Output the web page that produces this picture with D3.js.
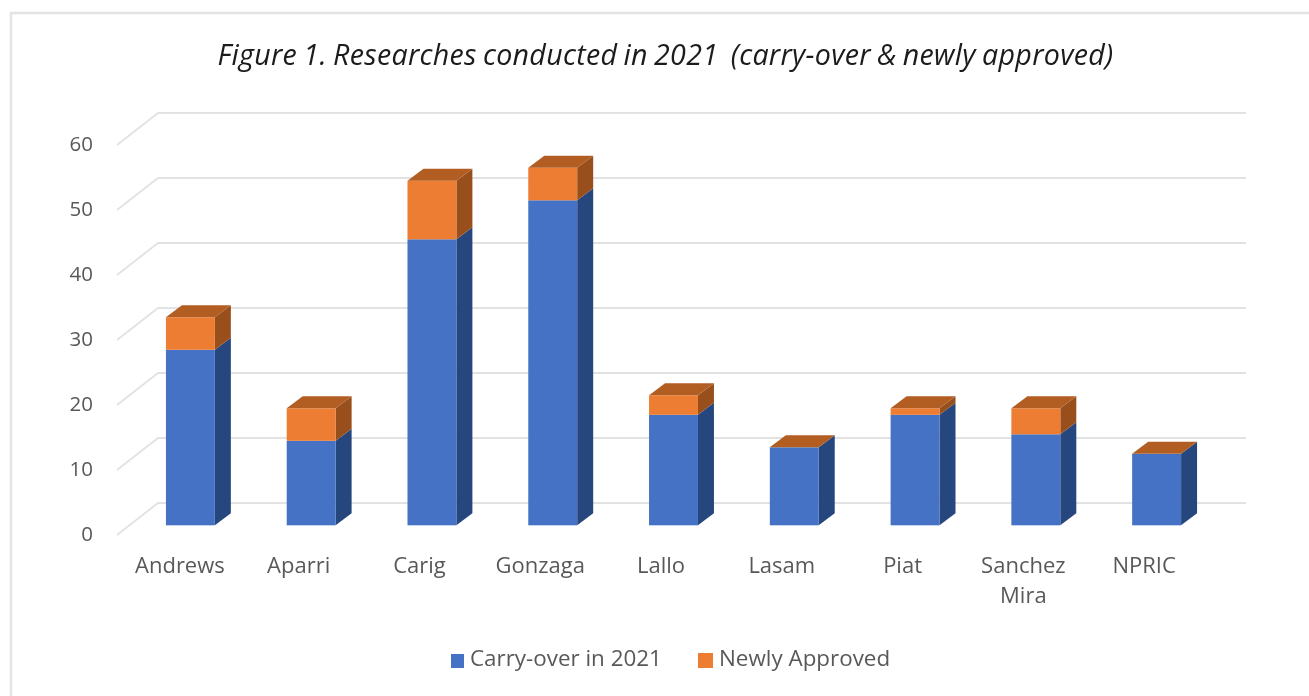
<!DOCTYPE html>
<html><head><meta charset="utf-8">
<script src="https://cdn.jsdelivr.net/npm/d3@7/dist/d3.min.js"></script>
<style>html,body{margin:0;padding:0;background:#fff}svg{display:block}text{font-family:"Open Sans",sans-serif}</style>
</head><body><svg id="c" width="1309" height="696"></svg>
<script>
const categories=["Andrews","Aparri","Carig","Gonzaga","Lallo","Lasam","Piat","Sanchez Mira","NPRIC"];
const carryOver=[27,13,44,50,17,12,17,14,11];
const newlyApproved=[5,5,9,5,3,0,1,4,0];
const seriesNames=["Carry-over in 2021","Newly Approved"];
const tickValues=[0,10,20,30,40,50,60];
const titleText="Figure 1. Researches conducted in 2021  (carry-over & newly approved)";

const colors={blue:"#4472c4",blueSide:"#28477e",orange:"#ed7d31",orangeSide:"#99501d",orangeTop:"#b25d20",grid:"#e2e2e2",text:"#595959"};
const svg=d3.select("#c");
const defs=svg.append("defs");
defs.append("filter").attr("id","soft").attr("x","-5%").attr("y","-5%").attr("width","110%").attr("height","110%")
  .append("feGaussianBlur").attr("stdDeviation",0.6);
const root=svg.append("g").attr("filter","url(#soft)");

root.append("path").attr("d","M11,696V13H1309").attr("fill","none").attr("stroke","#e3e3e3").attr("stroke-width",2.4);

const x=d3.scaleBand().domain(categories).range([130,1217]).paddingInner(0.595).paddingOuter(0.2975);
const yFront=d3.scaleLinear().domain([0,60]).range([525.3,135.3]);
const yBack=d3.scaleLinear().domain([0,60]).range([503,113]);
const floorDx=41, floorDy=32, barDx=16, barDy=12;

// walls and gridlines
const grid=root.append("g");
grid.selectAll("path").data(tickValues).join("path")
  .attr("d",v=>`M117,${yBack(v)+floorDy}L${117+floorDx},${yBack(v)}H1246`)
  .attr("fill","none").attr("stroke",colors.grid).attr("stroke-width",1.8);

// axis labels
const yAxisG=root.append("g").attr("transform","translate(93,3)")
  .call(d3.axisLeft(d3.scaleLinear().domain([0,60]).range([yBack(0)+floorDy,yBack(60)+floorDy])).tickValues(tickValues).tickSize(0).tickPadding(0));
yAxisG.select(".domain").remove();
yAxisG.selectAll("text").attr("fill",colors.text).attr("font-size",20.5).attr("font-family",'"Open Sans",sans-serif').attr("dy","0.1em");

// bars
const rows=categories.map((c,i)=>({c,a:carryOver[i],b:newlyApproved[i]}));
const g=root.append("g").selectAll("g").data(rows).join("g");
const w=x.bandwidth();
function box(sel,lo,hi,front,side){
  sel.append("path").attr("d",d=>{const X=x(d.c)+w,y0=yFront(lo(d)),y1=yFront(hi(d));
    return `M${X},${y0}L${X+barDx},${y0-barDy}V${y1-barDy}L${X},${y1}Z`;}).attr("fill",side);
  sel.append("rect").attr("x",d=>x(d.c)).attr("width",w)
    .attr("y",d=>yFront(hi(d))).attr("height",d=>yFront(lo(d))-yFront(hi(d))).attr("fill",front);
}
box(g,()=>0,d=>d.a,colors.blue,colors.blueSide);
box(g.filter(d=>d.b>0),d=>d.a,d=>d.a+d.b,colors.orange,colors.orangeSide);
g.append("path").attr("d",d=>{const X=x(d.c),Y=yFront(d.a+d.b);
  return `M${X},${Y}L${X+barDx},${Y-barDy}H${X+w+barDx}L${X+w},${Y}Z`;}).attr("fill",colors.orangeTop);

// category labels
const labels=root.append("g").selectAll("text").data(categories).join("text")
  .attr("text-anchor","middle").attr("fill",colors.text).attr("font-size",22)
  .attr("transform",d=>`translate(${x(d)+w/2-(d==="Andrews"?10.5:12.5)},573)`);
labels.each(function(d){
  const parts=d==="Sanchez Mira"?d.split(" "):[d];
  d3.select(this).selectAll("tspan").data(parts).join("tspan").attr("x",0).attr("dy",(p,i)=>i?30:0).text(p=>p);
});

// title
root.append("text").attr("x",665.5).attr("y",65).attr("text-anchor","middle").attr("font-size",28.6).attr("word-spacing",-1.5).attr("letter-spacing",0.3).attr("font-style","italic").attr("fill","#1a1a1a").style("white-space","pre").text(titleText);

// legend
const lx=[451,698], tx=[470,719], lc=[colors.blue,colors.orange];
seriesNames.forEach((s,i)=>{
  root.append("rect").attr("x",lx[i]).attr("y",i?653:654).attr("width",i?15:13).attr("height",i?15:14).attr("fill",lc[i]);
  root.append("text").attr("x",tx[i]).attr("y",665.5).attr("font-size",22.4).attr("fill",colors.text).text(s);
});
</script></body></html>
